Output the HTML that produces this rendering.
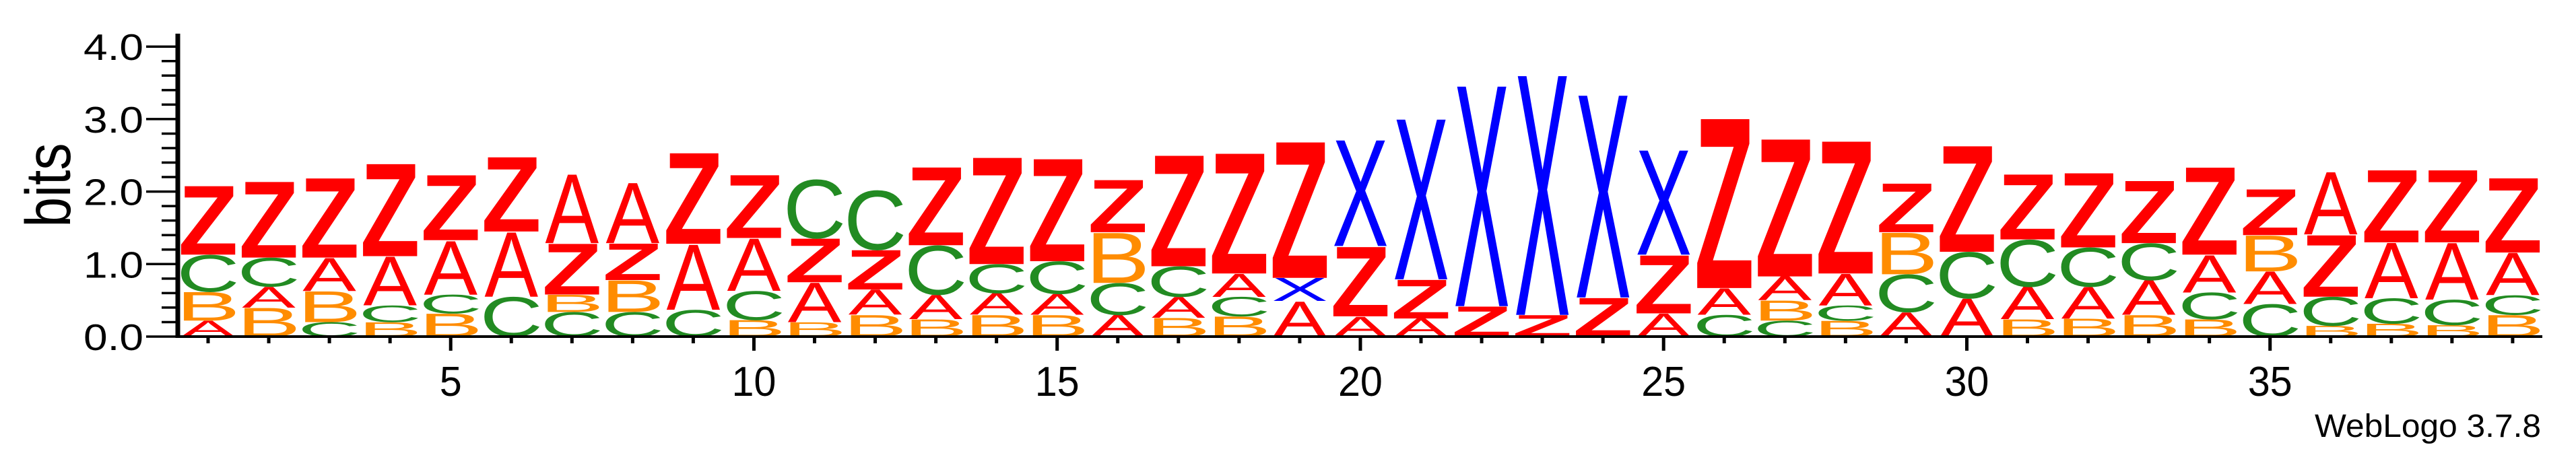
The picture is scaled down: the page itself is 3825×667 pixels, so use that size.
<!DOCTYPE html>
<html><head><meta charset="utf-8"><style>
html,body{margin:0;padding:0;background:#fff;}
svg{display:block;}
</style></head><body>
<svg id="chart" width="3825" height="667" viewBox="0 0 3825 667" xmlns="http://www.w3.org/2000/svg">
<rect width="3825" height="667" fill="#fff"/>
<g id="stacks"></g>
<g id="axes"></g>
<text x="0" y="0" font-family="Liberation Sans, sans-serif" font-size="95" textLength="125" lengthAdjust="spacingAndGlyphs" text-anchor="middle" transform="translate(104,275) rotate(-90)">bits</text>
<text x="3437" y="649" font-family="Liberation Sans, sans-serif" font-size="48" textLength="336" lengthAdjust="spacingAndGlyphs">WebLogo 3.7.8</text>
</svg>
<script>
const positions = [1,2,3,4,5,6,7,8,9,10,11,12,13,14,15,16,17,18,19,20,21,22,23,24,25,26,27,28,29,30,31,32,33,34,35,36,37,38,39];
const letterSeqs = ["ABCZ","BACZ","CBAZ","BCAZ","BCAZ","CAZ","CBZA","CBZA","CAZ","BCAZ","BAZC","BAZC","BACZ","BACZ","BACZ","ACBZ","BACZ","BCAZ","AXZ","AZX","AZX","ZX","ZX","ZX","AZX","CAZ","CBAZ","BCAZ","ACBZ","ACZ","BACZ","BACZ","BACZ","BCAZ","CABZ","BCZA","BCAZ","BCAZ","BCAZ"];
const letterHeights = [
[.22,.40,.51,.96],[.40,.29,.40,1.06],[.20,.43,.46,1.11],[.20,.23,.68,1.29],[.32,.26,.75,.91],
[.55,.90,1.04],[.34,.24,.71,.96],[.34,.44,.51,.84],[.37,.91,1.27],[.23,.40,.73,.88],
[.20,.55,.61,.81],[.30,.35,.55,.82],[.24,.34,.68,1.09],[.30,.30,.40,1.49],[.30,.29,.45,1.43],
[.30,.44,.70,.73],[.26,.29,.42,1.55],[.28,.27,.32,1.68],[.49,.32,1.90],[.28,.97,1.48],
[.25,.54,2.24],[.42,3.08],[.30,3.35],[.54,2.83],[.32,.81,1.46],
[.30,.37,2.37],[.22,.28,.33,1.92],[.22,.21,.44,1.85],[.34,.52,.58,.68],[.53,.64,1.48],
[.24,.45,.65,.91],[.25,.44,.54,1.04],[.30,.48,.51,.87],[.24,.37,.52,1.22],[.45,.45,.50,.64],
[.15,.40,.86,.87],[.18,.35,.77,1.01],[.16,.35,.79,1.01],[.30,.27,.59,1.04]
];
const yTickValues = [0,1,2,3,4];
const yTickLabels = ["0.0","1.0","2.0","3.0","4.0"];
const xTickLabelValues = [5,10,15,20,25,30,35];

const NS = "http://www.w3.org/2000/svg";
function xScale(p){ return 309 + (p-1)*90.05; }
function yScale(b){ return 500 - b*107.7; }
const colors = {A:"#ff0000",Z:"#ff0000",B:"#ff8c00",C:"#228b22",X:"#0000ff"};
const inkW = {A:.67,B:.56,C:.62,X:.64,Z:.55};
const stacks = document.getElementById("stacks");
positions.forEach((p,i)=>{
  const seq = letterSeqs[i], hs = letterHeights[i];
  let base = 0;
  for(let k=0;k<seq.length;k++){
    const L = seq[k], h = hs[k];
    const H = h*107.7;
    const t = document.createElementNS(NS,"text");
    
    
    t.setAttribute("x","0"); t.setAttribute("y","0");
    t.setAttribute("font-family","Liberation Sans, sans-serif");
    t.setAttribute("font-weight", L === "Z" ? "bold" : "normal");
    t.setAttribute("font-size","100");
    t.setAttribute("text-anchor","middle");
    t.setAttribute("fill",colors[L]);
    const sx = 80/(inkW[L]*100), sy = H/70;
    t.setAttribute("transform","translate("+xScale(p)+","+yScale(base)+") scale("+sx+","+sy+")");
    t.textContent = L;
    stacks.appendChild(t);
    base += h;
  }
});
const axes = document.getElementById("axes");
function line(x1,y1,x2,y2,w,name){
  const l = document.createElementNS(NS,"line");
  
  
  l.setAttribute("x1",x1);l.setAttribute("y1",y1);l.setAttribute("x2",x2);l.setAttribute("y2",y2);
  l.setAttribute("stroke","#000");l.setAttribute("stroke-width",w);
  axes.appendChild(l);
}
line(264,50,264,502,7,"y-axis-line");
line(261,500,3775,500,4,"x-axis-line");
for(let v=0; v<=4.001; v+=0.2){
  const major = Math.abs(v-Math.round(v))<1e-6;
  line(major?217:240, yScale(v), 264, yScale(v), 3.5, "y-tick");
}
yTickValues.forEach((v,i)=>{
  const t = document.createElementNS(NS,"text");
  
  
  t.setAttribute("x",124); t.setAttribute("y",yScale(v)+20);
  t.setAttribute("font-family","Liberation Sans, sans-serif");
  t.setAttribute("font-size","55");
  t.setAttribute("textLength","89");
  t.setAttribute("lengthAdjust","spacingAndGlyphs");
  t.textContent = yTickLabels[i];
  axes.appendChild(t);
});
positions.forEach(p=>{
  const major = xTickLabelValues.indexOf(p)>=0;
  line(xScale(p),500,xScale(p),major?521:510,5,"x-tick");
});
xTickLabelValues.forEach(v=>{
  const t = document.createElementNS(NS,"text");
  
  
  const s = String(v);
  t.setAttribute("x",xScale(v)-(s.length*33)/2); t.setAttribute("y",588);
  t.setAttribute("font-family","Liberation Sans, sans-serif");
  t.setAttribute("font-size","62");
  t.setAttribute("textLength",String(s.length*33));
  t.setAttribute("lengthAdjust","spacingAndGlyphs");
  t.textContent = s;
  axes.appendChild(t);
});
</script>
</body></html>
